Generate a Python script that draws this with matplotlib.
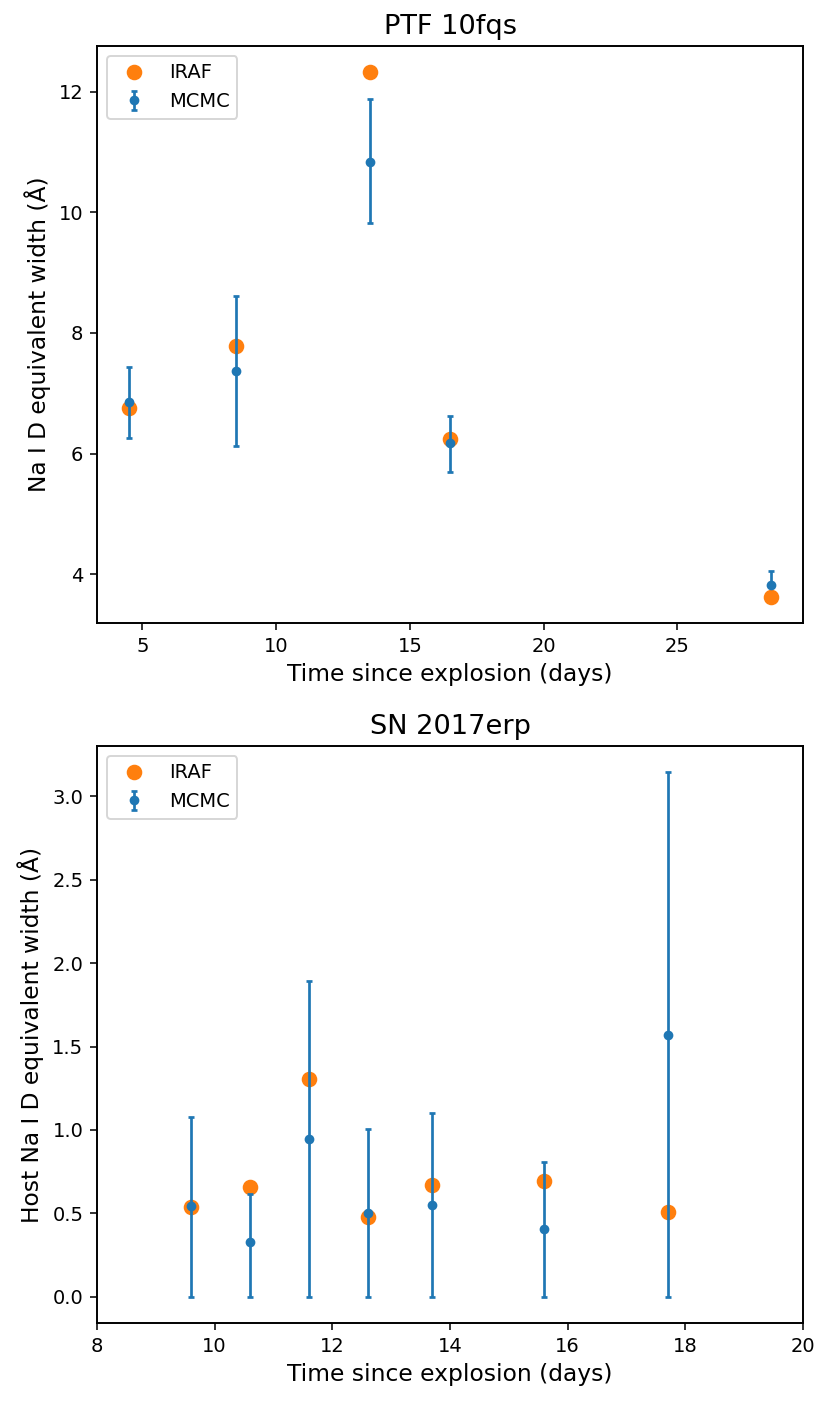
import numpy as np
import matplotlib
matplotlib.use('Agg')
import matplotlib.pyplot as plt

# PTF 10fqs
ptf_days = [4.5, 8.5, 13.5, 16.5, 28.5]
ptf_iraf = [6.75, 7.78, 12.32, 6.24, 3.63]
ptf_mcmc = [6.855, 7.37, 10.84, 6.17, 3.83]
ptf_err_lo = [0.595, 1.25, 1.01, 0.48, 0.03]
ptf_err_hi = [0.585, 1.24, 1.03, 0.45, 0.22]

# SN 2017erp
erp_days = [9.6, 10.6, 11.6, 12.6, 13.7, 15.6, 17.7]
erp_iraf = [0.536, 0.657, 1.303, 0.476, 0.669, 0.691, 0.508]
erp_mcmc = [0.542, 0.331, 0.948, 0.504, 0.552, 0.406, 1.572]
erp_err_lo = [0.542, 0.331, 0.948, 0.504, 0.552, 0.406, 1.572]
erp_err_hi = [0.536, 0.285, 0.947, 0.500, 0.548, 0.403, 1.572]

plt.rcParams['axes.linewidth'] = 1.0

fig = plt.figure(figsize=(830 / 140, 1402 / 140), dpi=140)
W, H = 830, 1402
ax1 = fig.add_axes([97 / W, 1 - 623 / H, 706 / W, 577 / H])
ax2 = fig.add_axes([97 / W, 1 - 1323 / H, 706 / W, 577 / H])

panels = [
    (ax1, ptf_days, ptf_iraf, ptf_mcmc, ptf_err_lo, ptf_err_hi,
     'PTF 10fqs', 'Na I D equivalent width (Å)'),
    (ax2, erp_days, erp_iraf, erp_mcmc, erp_err_lo, erp_err_hi,
     'SN 2017erp', 'Host Na I D equivalent width (Å)'),
]

for ax, days, iraf, mcmc, lo, hi, title, ylab in panels:
    ax.plot(days, iraf, 'o', color='tab:orange', markersize=7, label='IRAF')
    ax.errorbar(days, mcmc, yerr=[lo, hi], fmt='o', color='tab:blue',
                markersize=4, elinewidth=1.4, capsize=1.5, capthick=1.4,
                label='MCMC')
    ax.set_title(title, fontsize=14)
    ax.set_xlabel('Time since explosion (days)', fontsize=12)
    ax.set_ylabel(ylab, fontsize=12)
    ax.legend(loc='upper left')

ax2.set_xlim(8, 20)

plt.savefig('out.png', dpi=140)
